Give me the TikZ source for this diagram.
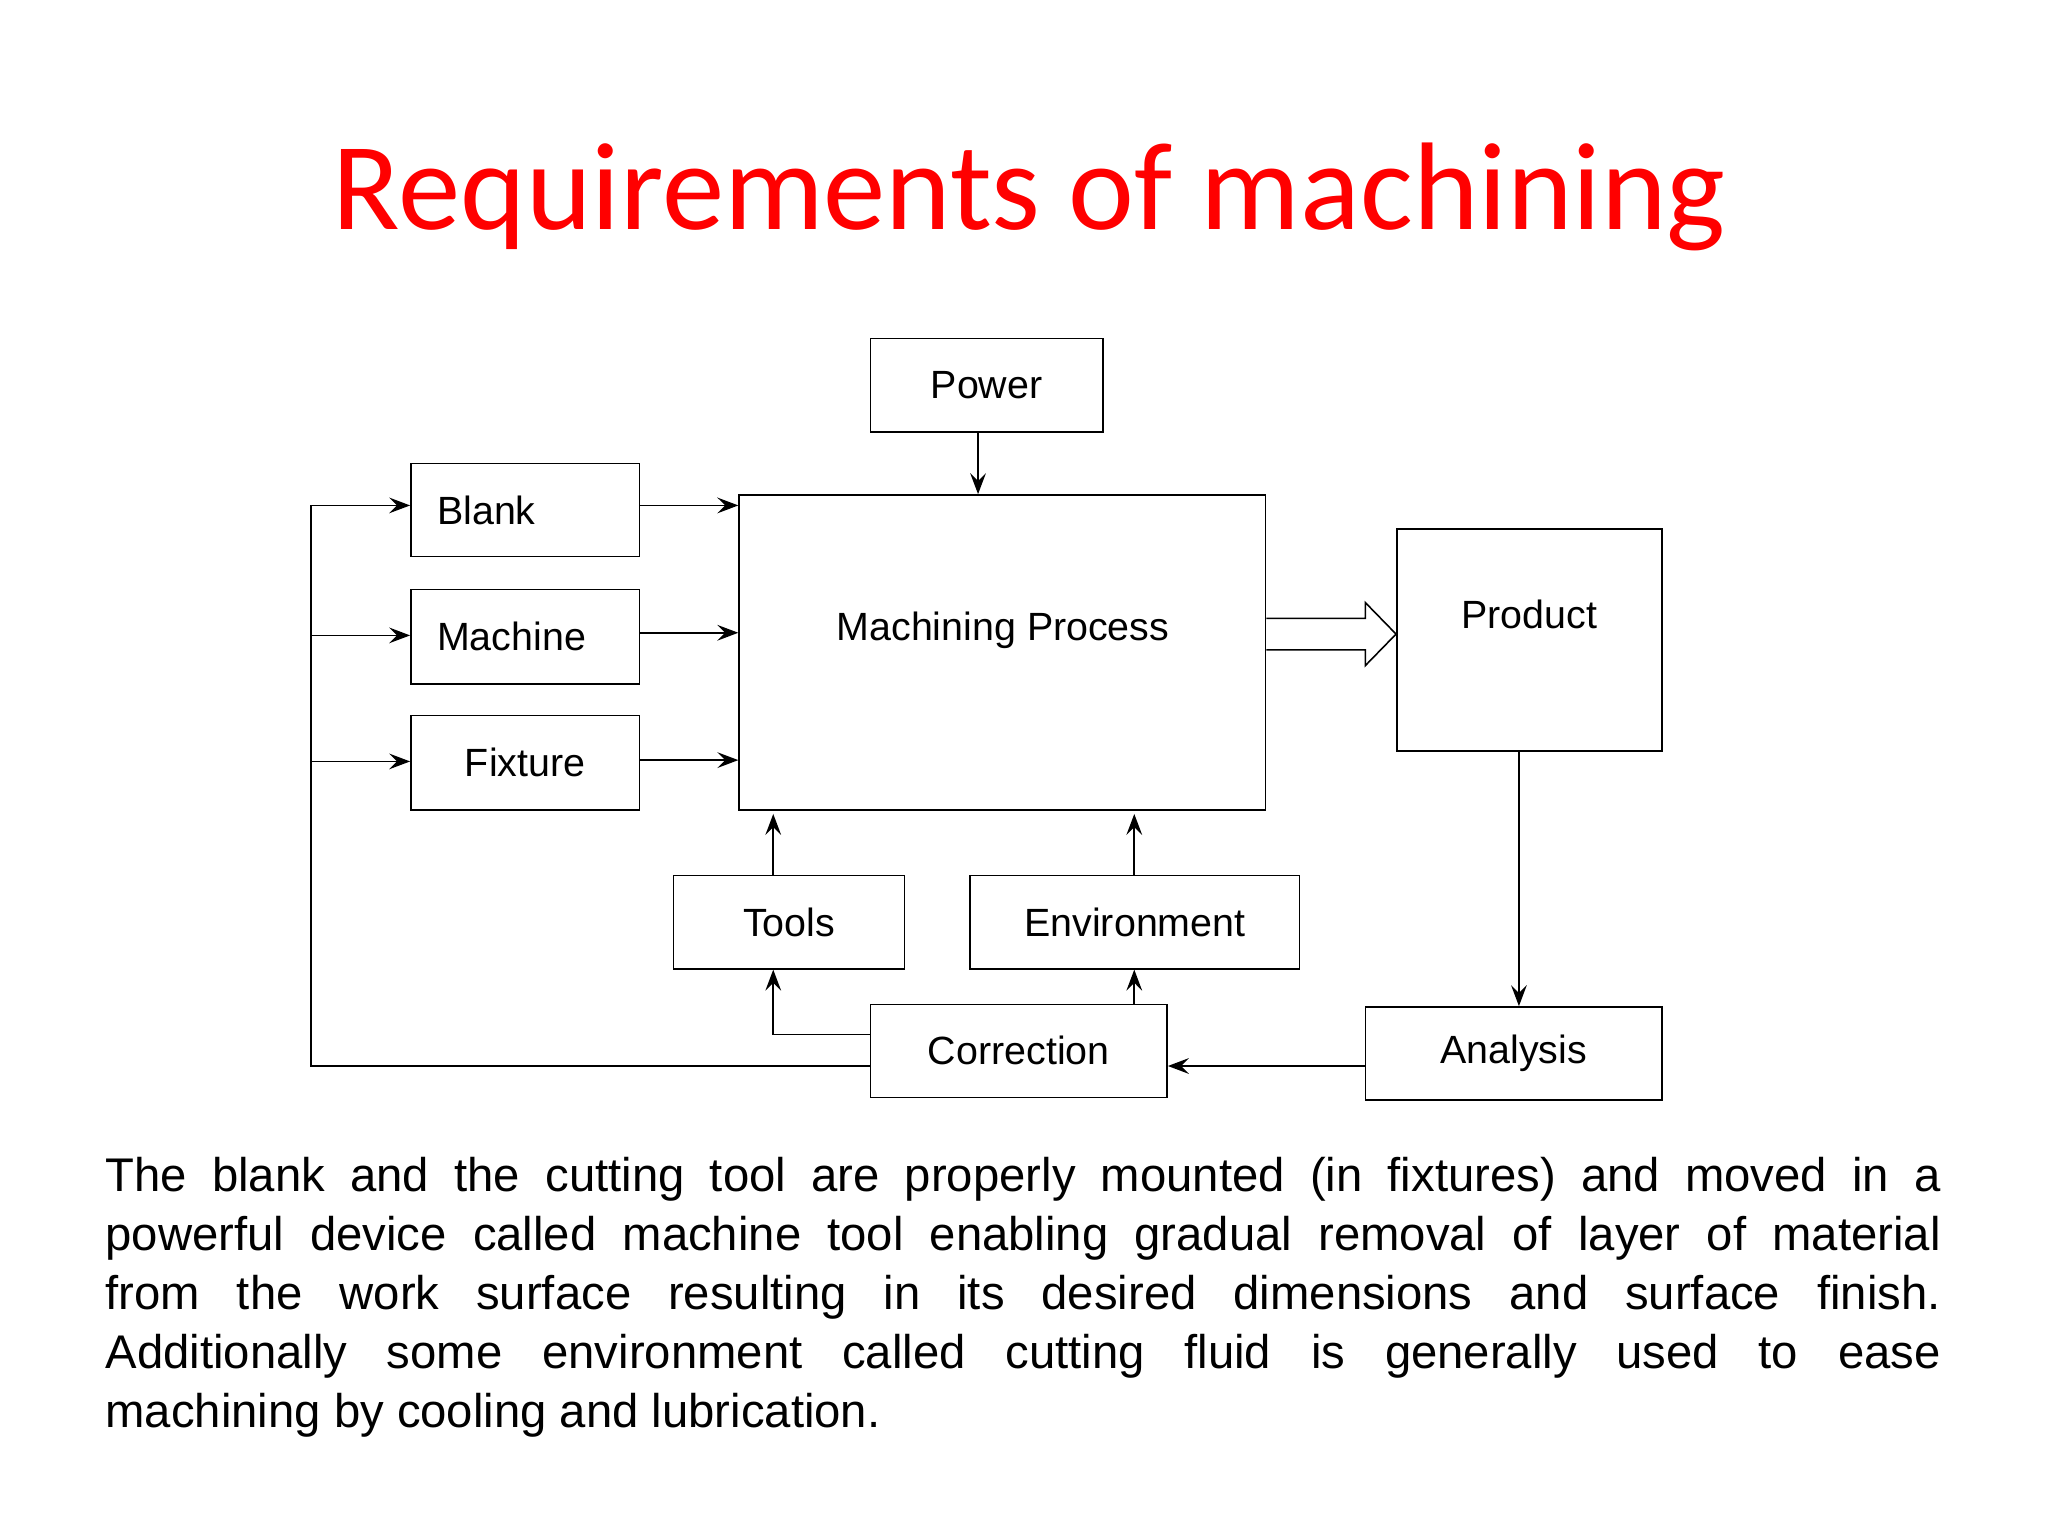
\documentclass[tikz,border=0pt]{standalone}
\usepackage{fontspec}
\setmainfont{Liberation Sans}
\newfontfamily\titlefont{Carlito}
\usetikzlibrary{arrows.meta,shapes.arrows}
\begin{document}
\begin{tikzpicture}[x=0.5pt,y=-0.5pt,
  box/.style={draw,line width=0.6pt,inner sep=0pt,font=\fontsize{15}{18}\selectfont},
  arr/.style={draw,line width=0.6pt,-{Stealth[length=8pt,width=6pt,inset=3pt]}},
  ln/.style={draw,line width=0.6pt}]
\useasboundingbox[fill=white] (0,0) rectangle (1560,1170);
\node[font=\titlefont\fontsize{47.5}{52}\selectfont,text=red] (title) at (784,150) {Requirements of machining};
\node[box,minimum width=88.5pt,minimum height=35.5pt] (power) at (751.5,293.5) {Power};
\node[box,minimum width=200.5pt,minimum height=120pt] (mp) at (763.5,497) {};
\node[font=\fontsize{15}{18}\selectfont] (mpt) at (764,480) {Machining Process};
\node[box,minimum width=87pt,minimum height=35.5pt,text width=67pt,align=left,inner xsep=10pt] (blank) at (400,388.5) {Blank};
\node[box,minimum width=87pt,minimum height=36pt,text width=67pt,align=left,inner xsep=10pt] (machine) at (400,485) {Machine};
\node[box,minimum width=87pt,minimum height=36pt] (fixture) at (400,581) {Fixture};
\node[box,minimum width=101pt,minimum height=84.5pt] (product) at (1165,487.5) {};
\node[font=\fontsize{15}{18}\selectfont] (prodt) at (1165,468) {Product};
\node[box,minimum width=88pt,minimum height=35.5pt] (tools) at (601,702.5) {Tools};
\node[box,minimum width=125.5pt,minimum height=35.5pt] (env) at (864.5,702.5) {Environment};
\node[box,minimum width=113pt,minimum height=35.5pt] (corr) at (776,800.5) {Correction};
\node[box,minimum width=113pt,minimum height=35.5pt] (anal) at (1153,802.5) {Analysis};
% feedback
\coordinate (fb1) at (237,812);
\coordinate (fb2) at (237,385);
\draw[ln] (corr.west |- fb1) -- (fb1) -- (fb2);
\draw[arr] (fb2) -- (blank.west |- fb2);
\draw[arr] (237,484) -- (machine.west |- 0,484);
\draw[arr] (237,580) -- (fixture.west |- 0,580);
\draw[arr] (blank.east |- 0,385) -- (mp.west |- 0,385);
\draw[arr] (machine.east |- 0,482) -- (mp.west |- 0,482);
\draw[arr] (fixture.east |- 0,579) -- (mp.west |- 0,579);
\draw[arr] (power.south -| 745,0) -- (mp.north -| 745,0);
\draw[arr] (tools.north -| 589,0) -- (589,620);
\draw[arr] (env.north -| 864,0) -- (864,620);
\draw[arr] (corr.west |- 0,788) -- (589,788) -- (tools.south -| 589,0);
\draw[arr] (corr.north -| 864,0) -- (env.south -| 864,0);
\draw[arr] (product.south -| 1157,0) -- (anal.north -| 1157,0);
\draw[arr] (anal.west |- 0,812) -- (corr.east |- 0,812);
% hollow arrow
\draw[ln,line join=miter] (mp.east |- 0,471) -- (1040,471) -- (1040,459) -- (product.west |- 0,483) -- (1040,507) -- (1040,495) -- (mp.east |- 0,495);
\node[anchor=north west,inner sep=0pt,text width=699pt,align=justify,font=\fontsize{18}{22.5}\selectfont] (para) at (80,881) {%
The blank and the cutting tool are properly mounted (in fixtures) and moved in a\linebreak
powerful device called machine tool enabling gradual removal of layer of material\linebreak
from the work surface resulting in its desired dimensions and surface finish.\linebreak
Additionally some environment called cutting fluid is generally used to ease\linebreak
machining by cooling and lubrication.};
\end{tikzpicture}
\end{document}
